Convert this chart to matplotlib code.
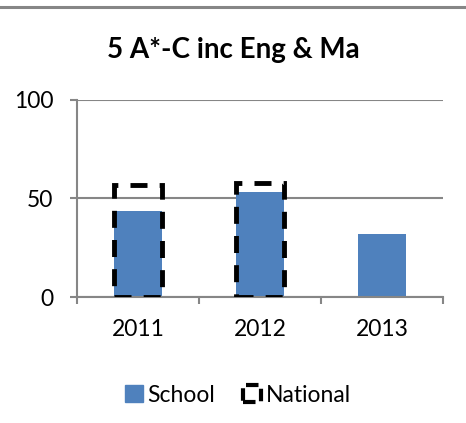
import matplotlib
matplotlib.use("Agg")
import matplotlib.pyplot as plt
from matplotlib.patches import Patch
from matplotlib.lines import Line2D

plt.rcParams['font.family'] = ['Lato', 'DejaVu Sans']

years = ["2011", "2012", "2013"]
school = [43.5, 53.5, 32]
national = [57, 58, None]
yticks = [0, 50, 100]
title = "5 A*-C inc Eng & Ma"

GRAY = "#868686"
BLUE = "#4F81BD"

fig = plt.figure(figsize=(4.66, 4.23), dpi=100)
ax = fig.add_axes([77/466, 1-297/423, (443-77)/466, (297-100)/423])

x = list(range(len(years)))
ax.bar(x, school, width=0.4, color=BLUE, zorder=2)
nx = [i for i, v in zip(x, national) if v is not None]
nv = [v for v in national if v is not None]
ax.bar(nx, nv, width=0.4, facecolor="none", edgecolor="black",
       linewidth=3.5, linestyle=(0, (3.5, 2.5)), zorder=3)

ax.set_xlim(-0.5, len(years) - 0.5)
ax.set_ylim(0, 100)
ax.set_yticks(yticks)
ax.set_yticklabels([str(t) for t in yticks], fontsize=16.5)
ax.set_xticks(x)
ax.set_xticklabels(years, fontsize=16.5)
ax.set_xticks([i - 0.5 for i in range(len(years) + 1)], minor=True)
ax.tick_params(axis='x', which='major', length=0, pad=16)
ax.tick_params(axis='x', which='minor', length=5, width=1.5, color=GRAY)
ax.tick_params(axis='y', which='major', length=5, width=1.5, color=GRAY, pad=12)
ax.yaxis.grid(True, color=GRAY, linewidth=1.5, zorder=0)
ax.set_axisbelow(True)
for s in ['top', 'right']:
    ax.spines[s].set_visible(False)
for s in ['left', 'bottom']:
    ax.spines[s].set_color(GRAY)
    ax.spines[s].set_linewidth(1.5)

fig.text(0.5, 1-50/423, title, ha='center', va='center', fontsize=20, fontweight='bold')
fig.add_artist(Line2D([0, 1], [1-7/423, 1-7/423], color=GRAY, linewidth=2.2,
                      transform=fig.transFigure))

handles = [Patch(facecolor=BLUE, edgecolor=BLUE),
           Patch(facecolor="none", edgecolor="black", linewidth=3, linestyle=(0, (3, 1.5)))]
fig.legend(handles, ["School", "National"], loc='center', bbox_to_anchor=(0.51, 1-395/423),
           ncol=2, frameon=False, fontsize=16.5, handlelength=0.8, handleheight=0.8,
           handletextpad=0.2, columnspacing=1.2)

fig.savefig("out.png", dpi=100)
